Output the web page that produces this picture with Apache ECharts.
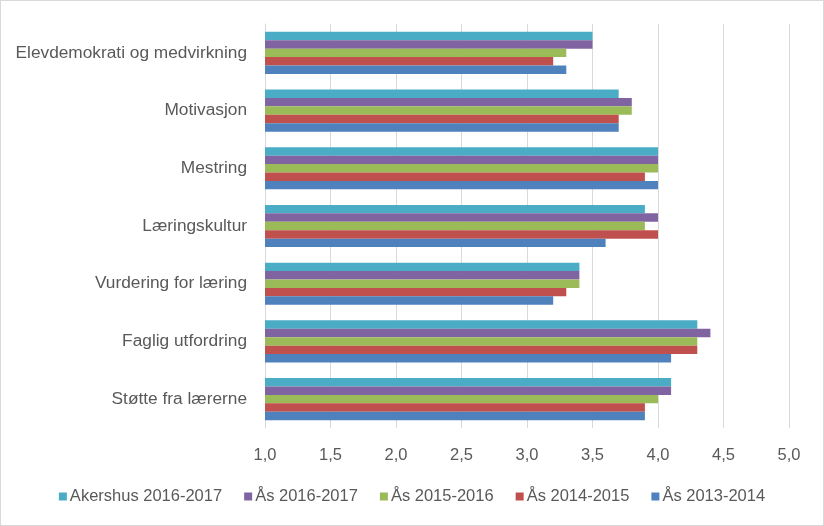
<!DOCTYPE html>
<html><head><meta charset="utf-8">
<script src="https://cdn.jsdelivr.net/npm/echarts@6/dist/echarts.min.js"></script>
<style>html,body{margin:0;padding:0;background:#fff}#c{width:824px;height:526px;box-sizing:border-box;border:1px solid #d9d9d9}</style>
</head><body><div id="c"></div>
<script>
var categories = ["Elevdemokrati og medvirkning","Motivasjon","Mestring","Læringskultur","Vurdering for læring","Faglig utfordring","Støtte fra lærerne"];
var seriesNames = ["Akershus 2016-2017","Ås 2016-2017","Ås 2015-2016","Ås 2014-2015","Ås 2013-2014"];
var akershus1617 = [3.5,3.7,4.0,3.9,3.4,4.3,4.1];
var aas1617 = [3.5,3.8,4.0,4.0,3.4,4.4,4.1];
var aas1516 = [3.3,3.8,4.0,3.9,3.4,4.3,4.0];
var aas1415 = [3.2,3.7,3.9,4.0,3.3,4.3,3.9];
var aas1314 = [3.3,3.7,4.0,3.6,3.2,4.1,3.9];
var colors = ["#4BACC6","#8064A2","#9BBB59","#C0504D","#4F81BD"];
var allData = [akershus1617,aas1617,aas1516,aas1415,aas1314];
var font = "Liberation Sans";
var chart = echarts.init(document.getElementById('c'));
chart.setOption({
  animation:false,
  textStyle:{fontFamily:font},
  grid:{left:264,right:34,top:23,bottom:97,containLabel:false},
  legend:{top:482,left:'center',itemWidth:8,itemHeight:8,itemGap:22,icon:'rect',
    textStyle:{fontSize:16.5,color:'#595959',fontFamily:font,padding:[0,0,0,-2]},data:seriesNames},
  xAxis:{type:'value',min:1,max:5,interval:0.5,
    axisLabel:{formatter:function(v){return v.toFixed(1).replace('.',',');},fontSize:16.5,color:'#595959',margin:19},
    axisLine:{show:false},axisTick:{show:false},
    splitLine:{show:true,lineStyle:{color:'#d9d9d9',width:1}}},
  yAxis:{type:'category',data:categories,inverse:true,
    axisLine:{show:true,lineStyle:{color:'#d9d9d9'}},axisTick:{show:false},
    axisLabel:{fontSize:17.3,color:'#595959',margin:18}},
  series: seriesNames.map(function(n,i){return {name:n,type:'bar',data:allData[i],barGap:'0%',barCategoryGap:'27%',itemStyle:{color:colors[i]}};})
});
</script></body></html>
